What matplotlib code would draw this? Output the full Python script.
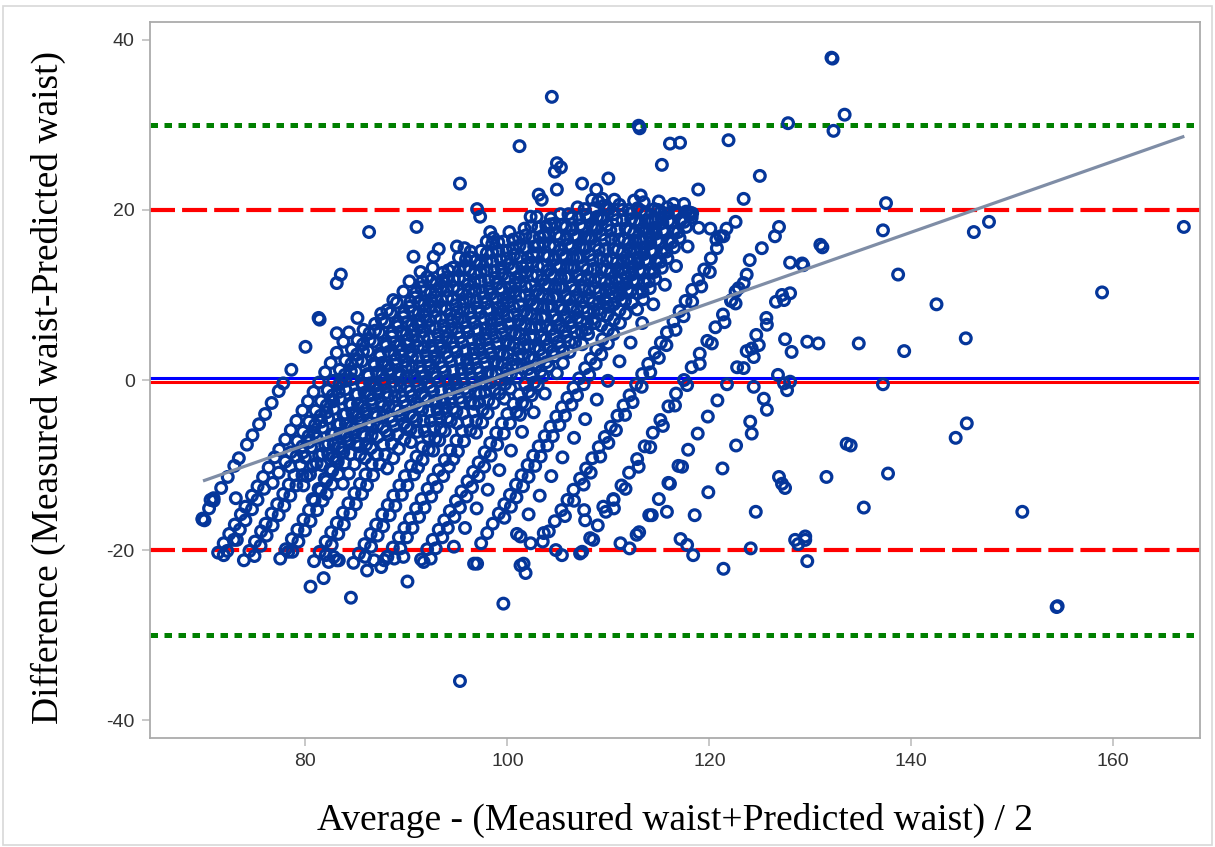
import numpy as np
import matplotlib.pyplot as plt
from matplotlib import transforms
from matplotlib.patches import Rectangle

plt.rcParams['axes.unicode_minus'] = False

# predicted waist levels (the diagonal stripes) and the differences seen on each
pred_levels = [78, 81.5, 82.3, 82.8, 83.6, 84.5, 85.3, 85.8, 86, 86.6, 87.3, 88, 88.8, 89.8,
               90.5, 91.5, 92.3, 93.3, 94.1, 94.8, 95.5, 96.3, 96.8, 97.6, 98.5, 99.3, 100,
               100.8, 102, 102.8, 103.3, 104.5, 105.3, 106.1, 107, 107.8, 108.7, 110, 113,
               117.5, 122, 126.5]

diff_by_level = [
    # 78
    [-16.4, -15.1, -14.2, -12.7, -11.4, -10.1, -9.2, -7.6, -6.5, -5.2, -4.0, -2.7, -1.3, -0.4, 1.2],
    # 81.5
    [-20.3, -19.2, -18.1, -17.0, -15.8, -14.9, -13.6, -12.5, -11.4, -10.3, -9.1, -8.2, -7.0, -5.9,
     -4.8, -3.6, -2.5, -1.4, -0.3, 0.9, 2.0, 3.2, 4.5, 5.6, 7.3],
    # 82.3
    [-20.1, -18.8, -17.6, -16.5, -15.2, -14.1, -12.8],
    # 82.8
    [-12.1, -10.9, -9.6, -8.5, -7.2, -6.1, -4.9, -3.6, -2.5, -1.2, -0.1, 1.2, 2.3, 3.6, 4.7, 5.9],
    # 83.6
    [-10.2, -9.0, -7.8, -6.6, -5.3, -4.2, -3.0, -1.8, -0.5, 0.6, 1.9, 3.0, 4.2, 5.5, 6.6, 7.8],
    # 84.5
    [-21.2, -20.1, -19.0, -17.8, -16.9, -15.7, -14.6, -13.4, -12.3, -11.2, -10.0, -9.1, -7.9, -6.8,
     -5.6, -4.5, -3.4, -2.2, -1.1, 0.1, 1.0, 2.2, 3.4, 4.5, 5.6, 6.8, 7.9, 9.1, 10.4, 11.6],
    # 85.3
    [-20.7, -19.5, -18.3, -17.1, -15.9, -14.8, -13.6, -12.4, -11.2],
    # 85.8
    [-11.3, -10.1, -8.9, -7.7, -6.4, -5.3, -4.1, -2.8, -1.7, -0.4, 0.7, 2.0, 3.1, 4.3, 5.6, 6.7,
     7.9, 9.2, 10.3, 11.6],
    # 86
    [-12.4, -11.1, -9.8, -8.7, -7.5, -6.3, -5.2, -4.0, -2.9, -1.7, -0.6, 0.5, 1.7, 2.8, 4.0, 5.1,
     6.3, 7.4, 8.6, 9.7, 10.9, 12.1, 13.2],
    # 86.6
    [-10.0, -8.7, -7.6, -6.3, -5.2, -3.9, -2.8, -1.5, -0.4, 0.9, 2.0, 3.3, 4.4, 5.7, 6.8, 8.1, 9.2,
     10.5, 11.7],
    # 87.3
    [-9.1, -7.9, -6.6, -5.5, -4.2, -3.1, -1.8, -0.7, 0.6, 1.7, 3.0, 4.1, 5.4, 6.5, 7.8, 8.9, 10.2,
     11.3, 12.6],
    # 88
    [-21.0, -19.9, -18.7, -17.6, -16.4, -15.3, -14.2, -13.0, -11.9, -10.7, -9.6, -8.5, -7.3, -6.2,
     -5.0, -3.9, -2.8, -1.6, -0.5, 0.7, 1.8, 2.9, 4.1, 5.2, 6.4, 7.5, 8.6, 9.8, 10.9, 12.1, 13.2,
     14.4, 15.5],
    # 88.8
    [-20.2, -19.0, -17.7, -16.6, -15.3, -14.2, -13.4, -12.3, -11.1, -9.8, -8.7, -7.4, -6.3, -5.0,
     -3.9, -2.6, -1.5, -0.2, 0.9, 2.2, 3.3, 4.6, 5.7, 7.0, 8.1, 9.4, 10.5, 11.8, 12.9, 14.2, 15.1],
    # 89.8
    [-12.2, -11.0, -9.9, -8.8, -7.6, -6.5, -5.3, -4.2, -3.1, -1.9, -0.8, 0.4, 1.5, 2.6, 3.8, 4.9,
     6.1, 7.2, 8.3, 9.5, 10.6, 11.8, 12.9, 14.0, 15.2, 16.3],
    # 90.5
    [-9.2, -8.0, -6.7, -5.6, -4.3, -3.2, -1.9, -0.8, 0.5, 1.6, 2.9, 4.0, 5.3, 6.4, 7.7, 8.8, 10.1,
     11.2, 12.5, 13.6, 14.9, 16.0],
    # 91.5
    [-21.3, -20.2, -19.0, -17.9, -16.8, -15.6, -14.5, -13.3, -12.2, -11.1, -9.9, -8.8, -7.6, -6.5,
     -5.4, -4.2, -3.1, -1.9, -0.8, 0.3, 1.5, 2.6, 3.8, 4.9, 6.0, 7.2, 8.3, 9.5, 10.6, 11.7, 12.9,
     14.0, 15.2, 16.3, 17.4],
    # 92.3
    [-20.6, -19.4, -18.1, -17.0, -15.7, -14.6, -13.4, -12.4, -11.2, -9.9, -8.8, -7.5, -6.4, -5.1,
     -4.0, -2.7, -1.6, -0.3, 0.8, 2.1, 3.2, 4.5, 5.6, 6.9, 8.0, 9.3, 10.4, 11.7, 12.8, 14.1, 15.2,
     16.5],
    # 93.3
    [-10.4, -9.2, -8.1, -7.0, -5.8, -4.7, -3.5, -2.4, -1.3, -0.1, 1.0, 2.2, 3.3, 4.4, 5.6, 6.7,
     7.9, 9.0, 10.1, 11.3, 12.4, 13.6, 14.7, 15.8, 17.0, 18.1, 19.2],
    # 94.1
    [-7.3, -6.1, -4.8, -3.7, -2.4, -1.3, 0.0, 1.1, 2.4, 3.5, 4.8, 5.9, 7.2, 8.3, 9.6, 10.7, 12.0,
     13.1, 14.4, 15.5, 16.8, 17.9],
    # 94.8
    [-6.0, -4.8, -3.5, -2.4, -1.1, 0.0, 1.3, 2.4, 3.7, 4.8, 6.1, 7.2, 8.5, 9.6, 10.9, 12.0, 13.3,
     14.4, 15.7, 16.8, 18.1, 19.0],
    # 95.5
    [-21.5, -20.4, -19.3, -18.1, -17.0, -15.8, -14.7, -13.6, -12.4, -11.3, -10.1, -9.0, -7.9, -6.7,
     -5.6, -4.4, -3.3, -2.2, -1.0, 0.1, 1.3, 2.4, 3.5, 4.7, 5.8, 7.0, 8.1, 9.2, 10.4, 11.5, 12.7,
     13.8, 14.9, 16.1, 17.2, 18.4, 19.5],
    # 96.3
    [-20.8, -19.6, -18.3, -17.2, -15.9, -14.8, -13.5, -12.4, -11.1, -10.3, -9.4, -8.2, -6.9, -5.8,
     -4.5, -3.4, -2.1, -1.0, 0.3, 1.4, 2.7, 3.8, 5.1, 6.2, 7.5, 8.6, 9.9, 11.0, 12.3, 13.4, 14.7,
     15.8, 17.1, 18.2, 19.5],
    # 96.8
    [-8.3, -7.1, -6.0, -4.8, -3.7, -2.6, -1.4, -0.3, 0.9, 2.0, 3.1, 4.3, 5.4, 6.6, 7.7, 8.8, 10.0,
     11.1, 12.3, 13.4, 14.5, 15.7, 16.8, 18.0, 19.1, 20.3],
    # 97.6
    [-5.1, -3.9, -2.6, -1.5, -0.2, 0.9, 2.2, 3.3, 4.6, 5.7, 7.0, 8.1, 9.4, 10.5, 11.8, 12.9, 14.2,
     15.3, 16.6, 17.7, 19.0, 20.1],
    # 98.5
    [-22.0, -20.8, -19.7, -18.5, -17.4, -16.3, -15.1, -14.0, -12.8, -11.7, -10.6, -9.4, -8.3, -7.1,
     -6.0, -4.9, -3.7, -2.6, -1.4, -0.3, 0.8, 2.0, 3.1, 4.3, 5.4, 6.5, 7.7, 8.8, 10.0, 11.1, 12.2,
     13.4, 14.5, 15.7, 16.8, 17.9, 19.1, 20.2, 21.0],
    # 99.3
    [-21.0, -19.8, -18.5, -17.4, -16.1, -15.0, -13.7, -12.6, -11.3, -10.2, -9.3, -8.4, -7.2, -5.9,
     -4.8, -3.5, -2.4, -1.1, 0.0, 1.3, 2.4, 3.7, 4.8, 6.1, 7.2, 8.5, 9.6, 10.9, 12.0, 13.3, 14.4,
     15.7, 16.8, 18.1, 19.2, 20.5],
    # 100
    [-6.2, -5.0, -3.9, -2.7, -1.6, -0.5, 0.7, 1.8, 3.0, 4.1, 5.2, 6.4, 7.5, 8.7, 9.8, 10.9, 12.1,
     13.2, 14.4, 15.5, 16.6, 17.8, 18.9, 20.1, 21.2],
    # 100.8
    [-2.2, -1.0, 0.3, 1.4, 2.7, 3.8, 5.1, 6.2, 7.5, 8.6, 9.9, 11.0, 12.3, 13.4, 14.7, 15.8, 17.1,
     18.2, 19.5, 20.6],
    # 102
    [-21.1, -19.9, -18.8, -17.6, -16.5, -15.4, -14.2, -13.1, -11.9, -10.8, -9.7, -8.5, -7.4, -6.2,
     -5.1, -4.0, -2.8, -1.7, -0.5, 0.6, 1.7, 2.9, 4.0, 5.2, 6.3, 7.4, 8.6, 9.7, 10.9, 12.0, 13.1,
     14.3, 15.4, 16.6, 17.7, 18.8, 20.0, 21.1],
    # 102.8
    [-19.8, -18.5, -17.4, -16.1, -15.0, -13.7, -12.6, -11.3, -10.2, -8.9, -7.6, -6.3, -5.1, -3.8,
     -2.7, -1.4, -0.3, 1.0, 2.1, 3.4, 4.5, 5.8, 6.9, 8.2, 9.3, 10.6, 11.7, 13.0, 14.1, 15.4, 16.5,
     17.8, 18.9, 20.2],
    # 103.3
    [-4.1, -2.9, -1.8, -0.6, 0.5, 1.6, 2.8, 3.9, 5.1, 6.2, 7.3, 8.5, 9.6, 10.8, 11.9, 13.0, 14.2,
     15.3, 16.5, 17.6, 18.7, 19.9],
    # 104.5
    [-19.6, -17.4, -15.1, -12.9, -10.6, -8.3, -6.1, -3.8, -1.6, 0.8, 2.0, 3.3, 4.4, 5.7, 6.8, 8.1,
     9.2, 10.5, 11.6, 12.9, 14.0, 15.3, 16.4, 17.7, 18.8, 20.1, 21.0],
    # 105.3
    [4.2, 5.4, 6.7, 7.8, 9.1, 10.2, 11.5, 12.6, 13.9, 15.0, 16.3, 17.4, 18.7, 19.8],
    # 106.1
    [6.4, 7.6, 8.9, 10.0, 11.3, 12.4, 13.7, 14.8, 16.1, 17.2, 18.5, 19.6, 20.7],
    # 107
    [-19.2, -18.0, -16.9, -15.7, -14.6, -13.5, -12.3, -11.2, -10.0, -8.9, -7.8, -6.6, -5.5, -4.3,
     -3.2, -2.1, -0.9, 0.2, 1.4, 2.5, 3.6, 4.8, 5.9, 7.1, 8.2, 9.3, 10.5, 11.6, 12.8, 13.9, 15.0,
     16.2, 17.3, 18.5, 19.6],
    # 107.8
    [-16.2, -14.9, -13.8, -12.5, -11.4, -10.1, -9.0, -7.7, -6.6, -5.3, -4.2, -2.9, -1.8, -0.5, 0.6,
     1.9, 3.0, 4.3, 5.4, 6.7, 7.8, 9.1, 10.2, 11.5, 12.6, 13.9, 15.0, 16.3, 17.4, 18.7, 19.8],
    # 108.7
    [8.3, 9.5, 10.8, 11.9, 13.2, 14.3, 15.6, 16.7, 18.0, 19.1],
    # 110
    [-18.1, -15.8, -13.6, -11.3, -9.1, -6.8, -4.6, -2.3, -0.1, 2.2, 4.4, 6.7, 8.9, 11.2, 13.4, 15.7,
     17.9],
    # 113
    [-19.0, -17.8, -16.6, -15.3, -14.1, -12.9, -11.6, -10.4, -9.2, -7.9, -6.7, -5.5, -4.2, -3.0,
     -1.8, -0.5, 0.7, 1.9, 3.2, 4.4, 5.6, 6.9, 8.1, 9.3, 10.6, 11.8, 13.0, 14.3, 15.5],
    # 117.5
    [-20.2, -18.6, -17.1, -15.5, -14.0, -12.4, -10.9, -9.3, -7.8, -6.2, -4.7, -3.1, -1.6, 0.0, 1.5,
     3.1, 4.6, 6.2, 7.7, 9.3, 10.8, 12.4],
    # 122
    [-19.8, -17.9, -15.9, -14.0, -12.1, -10.1, -8.2, -6.3, -4.3, -2.4, -0.5, 1.5, 3.4, 5.3, 7.3, 9.2],
    # 126.5
    [-18.7, -15.9, -13.2, -10.4, -7.7, -4.9, -2.2, 0.6, 3.3],
]

# extra levels packed into the crowded upper core and the right-hand stripes
core_levels = [84.0, 87.7, 89.2, 91.0, 92.8, 95.1, 98.1, 99.7, 101.4, 103.9, 104.9, 105.7,
               106.6, 108.2, 113.7, 118.1]
core_diffs = [
    [-8.5, -7.3, -6.2, -4.9, -3.8, -2.5, -1.4, -0.1, 1.0, 2.3, 3.4, 4.7, 5.8, 7.1, 8.2, 9.4],
    [-14.0, -12.8, -11.6, -10.5, -9.3, -8.1, -7.0, -5.8, -4.6, -3.5, -2.3, -1.1, 0.0, 1.2, 2.4,
     3.5, 4.7, 5.9, 7.0, 8.2, 9.4, 10.5, 11.7, 12.9],
    [-7.8, -6.6, -5.5, -4.3, -3.1, -2.0, -0.8, 0.4, 1.5, 2.7, 3.9, 5.0, 6.2, 7.4, 8.5, 9.7, 10.9,
     12.0, 13.2, 14.4],
    [-6.0, -4.8, -3.6, -2.5, -1.3, -0.1, 1.0, 2.2, 3.4, 4.5, 5.7, 6.9, 8.0, 9.2, 10.4, 11.5, 12.7,
     13.9, 15.0, 16.2],
    [-5.5, -4.3, -3.2, -2.0, -0.8, 0.3, 1.5, 2.7, 3.8, 5.0, 6.2, 7.3, 8.5, 9.7, 10.8, 12.0, 13.2,
     14.3, 15.5, 16.7, 17.8],
    [-3.9, -2.7, -1.6, -0.4, 0.8, 1.9, 3.1, 4.3, 5.4, 6.6, 7.8, 8.9, 10.1, 11.3, 12.4, 13.6, 14.8,
     15.9, 17.1, 18.3],
    [-2.8, -1.6, -0.5, 0.7, 1.9, 3.0, 4.2, 5.4, 6.5, 7.7, 8.9, 10.0, 11.2, 12.4, 13.5, 14.7, 15.9,
     17.0, 18.2, 19.4],
    [0.4, 1.6, 2.7, 3.9, 5.1, 6.2, 7.4, 8.6, 9.7, 10.9, 12.1, 13.2, 14.4, 15.6, 16.7, 17.9, 19.1,
     20.2],
    [1.3, 2.5, 3.6, 4.8, 6.0, 7.1, 8.3, 9.5, 10.6, 11.8, 13.0, 14.1, 15.3, 16.5, 17.6, 18.8, 20.0],
    [3.3, 4.5, 5.6, 6.8, 8.0, 9.1, 10.3, 11.5, 12.6, 13.8, 15.0, 16.1, 17.3, 18.5, 19.6],
    [6.0, 7.2, 8.3, 9.5, 10.7, 11.8, 13.0, 14.2, 15.3, 16.5, 17.7, 18.8, 20.0],
    [8.6, 9.8, 10.9, 12.1, 13.3, 14.4, 15.6, 16.8, 17.9, 19.1, 20.3],
    [9.4, 10.6, 11.7, 12.9, 14.1, 15.2, 16.4, 17.6, 18.7, 19.9],
    [10.4, 11.6, 12.7, 13.9, 15.1, 16.2, 17.4, 18.6, 19.7],
    [-16.0, -14.2, -12.3, -10.9, -9.0, -7.4, -5.9, -4.1, -2.6, -0.8, 0.9, 2.6, 4.1, 5.9, 7.5,
     9.2, 11.0, 12.7],
    [-15.1, -12.8, -10.2, -7.9, -5.4, -3.0, -0.6, 1.9, 4.3, 6.8, 9.0],
]

# points lying off the stripes (average, difference)
extra_avg = [132.1, 132.2, 133.4, 132.3, 129.3, 131.0, 131.2, 137.2, 137.5, 138.7, 142.5, 146.2,
             147.7, 167.0, 158.9, 129.7, 130.8, 134.8, 139.3, 145.4, 137.2, 144.4, 145.5, 134.0,
             131.6, 137.7, 135.3, 151.0, 154.4, 154.5, 129.5, 129.7, 127.8,
             104.4, 113.0, 113.1, 101.2, 116.1, 117.1, 121.9, 115.3, 125.0, 95.3, 104.9, 105.3,
             104.7, 110.0, 118.9, 123.4, 107.4, 108.8, 109.4, 108.4, 104.9, 103.1, 103.4, 117.5,
             118.3, 97.0, 97.3, 113.2, 113.5, 122.6, 121.7, 121.1, 120.1, 120.7, 121.4, 126.9,
             126.5, 125.2, 124.0, 128.0, 129.2, 123.4, 122.6, 122.2, 127.2, 128.0, 127.4, 125.7,
             127.5, 124.2, 124.9, 124.4, 123.4, 127.4, 128.0, 127.7, 124.4, 125.7, 124.2, 126.9,
             127.2, 127.5, 124.6, 128.5, 129.5, 128.8, 124.1, 121.4, 118.4, 117.8,
             95.3, 80.5, 84.5, 90.1, 99.6, 71.9, 69.8, 70.0, 70.6, 70.9, 73.1, 81.3, 81.4, 83.1,
             80.0, 81.8, 83.1, 86.1, 87.8, 89.7, 91.7, 92.4, 96.7, 86.3, 91.0, 98.3, 98.6, 83.5,
             83.1, 90.7, 92.7, 93.2, 95.0, 91.4, 102.3, 103.6, 112.2, 118.1,
             101.3, 101.6, 101.8, 102.3, 103.6, 104.8, 105.4, 107.2, 107.6, 107.7, 108.5, 109.5,
             110.5, 111.2, 112.8, 114.3, 115.8, 116.1, 117.3, 133.6, 73.2, 78.3, 82.3, 82.8,
             83.3, 86.8, 88.1, 97.0, 101.3]
extra_diff = [37.9, 37.8, 31.2, 29.3, 13.5, 15.9, 15.6, 17.6, 20.8, 12.4, 8.9, 17.4,
              18.6, 18.0, 10.3, 4.5, 4.3, 4.3, 3.4, 4.9, -0.5, -6.8, -5.1, -7.7,
              -11.4, -11.0, -15.0, -15.5, -26.7, -26.6, -18.8, -21.3, 30.2,
              33.3, 29.9, 29.6, 27.5, 27.8, 27.9, 28.2, 25.3, 24.0, 23.1, 25.5, 25.0,
              24.5, 23.7, 22.4, 21.3, 23.1, 22.4, 21.3, 21.2, 22.4, 21.8, 21.2, 20.7,
              19.6, 20.1, 19.2, 21.7, 20.9, 18.6, 17.8, 16.9, 17.8, 16.5, 16.9, 18.0,
              16.9, 15.5, 14.1, 13.8, 13.7, 11.4, 10.4, 9.4, 10.0, 10.2, 9.4, 6.5,
              4.8, 3.7, 4.1, 2.7, 1.4, -0.4, -0.2, -1.2, -0.8, -3.5, -6.3, -11.4,
              -12.2, -12.7, -15.5, -18.8, -18.4, -19.3, -19.8, -22.2, -20.6, -19.4,
              -35.4, -24.3, -25.6, -23.7, -26.3, -20.6, -16.3, -16.5, -14.1, -13.9, -13.9, 7.3, 7.1, 5.5,
              3.9, -23.3, -21.2, -22.4, -21.2, -20.8, -21.4, -21.0, -21.6, 17.4, 18.0, 17.4, 16.7, 12.4,
              11.4, 14.5, 14.5, 15.4, 15.7, 12.7, 19.2, 16.9, 19.6, 19.4,
              -18.4, -21.6, -22.7, -19.2, -18.0, -20.0, -20.6, -20.4, -15.3, -16.5, -18.8, -14.9,
              -14.1, -19.2, -18.2, -15.9, -15.5, -12.2, -10.2, -7.5, -18.8, -20.2, -21.4, -20.8,
              -21.2, -21.2, -20.8, -21.6, -21.8]

# fitted trend of difference on average
fit_intercept = -41.0
fit_slope = 0.417
fit_x = [70.0, 166.9]

agree_limits = [20, -20]
outer_limits = [30, -30]

avg = []
diff = []
for p, ds in zip(pred_levels + core_levels, diff_by_level + core_diffs):
    for d in ds:
        # measured = predicted + diff, so the average sits half the difference away
        avg.append(p + d / 2)
        diff.append(d)
avg += extra_avg
diff += extra_diff

fig = plt.figure(figsize=(12.15, 8.47), dpi=100)
ax = fig.add_axes([150 / 1215, 1 - 738 / 847, 1050 / 1215, 716 / 847])

# reference lines
for y in outer_limits:
    ax.axhline(y, color='#008000', lw=3.6, dashes=(1.5, 1.3), dash_capstyle='butt', zorder=1)
for y in agree_limits:
    ax.axhline(y, color='#ff0000', lw=3.0, dashes=(6.0, 1.7), dash_capstyle='butt', zorder=1)
# zero line: red under blue, nudged a pixel apart
dn = transforms.ScaledTranslation(0, -1.1 / 72, fig.dpi_scale_trans)
up = transforms.ScaledTranslation(0, 1.1 / 72, fig.dpi_scale_trans)
ax.plot([0, 1], [0, 0], color='#ff0000', lw=2.2, zorder=1, transform=ax.get_yaxis_transform() + dn)
ax.plot([0, 1], [0, 0], color='#0000ff', lw=2.2, zorder=1, transform=ax.get_yaxis_transform() + up)

ax.scatter(avg, diff, s=60, facecolors='none', edgecolors='#05369a', linewidths=2.3, zorder=2)

fx = np.array(fit_x)
ax.plot(fx, fit_intercept + fit_slope * fx, color='#7f8da6', lw=2.3, zorder=3)

ax.set_xlim(64.6, 168.6)
ax.set_ylim(-42.1, 42.1)
ax.set_xticks([80, 100, 120, 140, 160])
ax.set_yticks([-40, -20, 0, 20, 40])
ax.tick_params(direction='out', length=6, width=1.3, color='#c4c4c4', labelcolor='#333333',
               labelsize=14, pad=5)
for lab in ax.get_xticklabels() + ax.get_yticklabels():
    lab.set_family('Liberation Sans')
for s in ax.spines.values():
    s.set_color('#ababab')
    s.set_linewidth(1.3)

fig.text(675 / 1215, 1 - 820 / 847, 'Average - (Measured waist+Predicted waist) / 2',
         family='Liberation Serif', fontsize=27, ha='center', va='center')
fig.text(48 / 1215, 1 - 388 / 847, 'Difference (Measured waist-Predicted waist)',
         family='Liberation Serif', fontsize=27, ha='center', va='center', rotation=90)

fig.patches.append(Rectangle((3 / 1215, 1 - 845 / 847), 1209 / 1215, 839 / 847,
                             transform=fig.transFigure, fill=False, ec='#d8d8d8', lw=1.2))

fig.savefig('out.png', dpi=100)
